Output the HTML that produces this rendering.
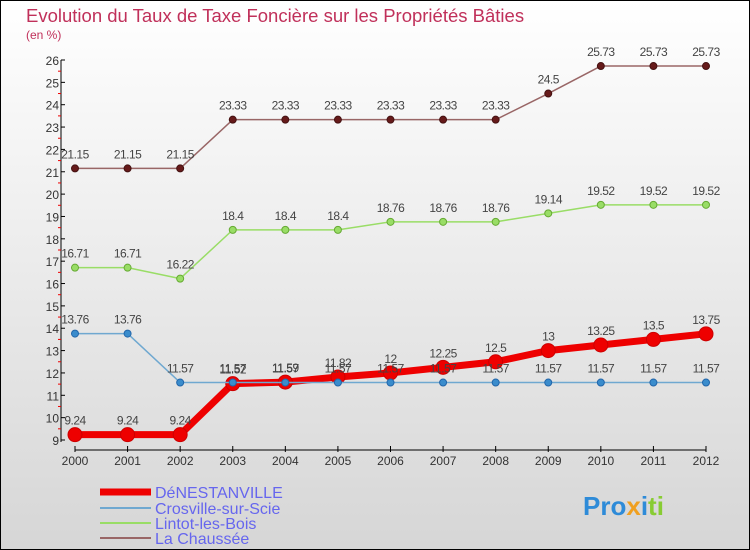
<!DOCTYPE html>
<html><head><meta charset="utf-8"><style>
body{margin:0}
svg{display:block;font-family:"Liberation Sans",sans-serif}
</style></head><body>
<svg width="750" height="550" xmlns="http://www.w3.org/2000/svg">
<defs><linearGradient id="bg" x1="0" y1="0" x2="0" y2="1"><stop offset="0" stop-color="#ffffff"/><stop offset="1" stop-color="#d6d6d6"/></linearGradient></defs>
<rect x="0.5" y="0.5" width="749" height="549" fill="url(#bg)" stroke="#000"/>
<text x="26" y="22" font-size="18.5" fill="#c0305a">Evolution du Taux de Taxe Foncière sur les Propriétés Bâties</text>
<text x="26" y="39" font-size="12" fill="#c0305a">(en %)</text>
<g id="axes"></g>
<g id="series"></g>
<g>
<line x1="100" y1="492" x2="151" y2="492" stroke="#ee0000" stroke-width="7"/>
<text x="155" y="498" font-size="16" fill="#6666ee">DéNESTANVILLE</text>
<line x1="100" y1="508" x2="151" y2="508" stroke="#6fa8d0" stroke-width="2"/>
<text x="155" y="514" font-size="16" fill="#6666ee">Crosville-sur-Scie</text>
<line x1="100" y1="523" x2="151" y2="523" stroke="#99dd66" stroke-width="2"/>
<text x="155" y="529" font-size="16" fill="#6666ee">Lintot-les-Bois</text>
<line x1="100" y1="538" x2="151" y2="538" stroke="#996666" stroke-width="2"/>
<text x="155" y="544" font-size="16" fill="#6666ee">La Chaussée</text>
</g>
<text x="583" y="515" font-size="26" font-weight="bold"><tspan fill="#2e8bd8">Pro</tspan><tspan fill="#f0a020">x</tspan><tspan fill="#2e8bd8">i</tspan><tspan fill="#88cc33">ti</tspan></text>
</svg>
<script>
const years=[2000,2001,2002,2003,2004,2005,2006,2007,2008,2009,2010,2011,2012];
const yTicks=[9,10,11,12,13,14,15,16,17,18,19,20,21,22,23,24,25,26];
const denestanville=[9.24,9.24,9.24,11.52,11.59,11.82,12,12.25,12.5,13,13.25,13.5,13.75];
const crosville=[13.76,13.76,11.57,11.57,11.57,11.57,11.57,11.57,11.57,11.57,11.57,11.57,11.57];
const lintot=[16.71,16.71,16.22,18.4,18.4,18.4,18.76,18.76,18.76,19.14,19.52,19.52,19.52];
const chaussee=[21.15,21.15,21.15,23.33,23.33,23.33,23.33,23.33,23.33,24.5,25.73,25.73,25.73];
const NS="http://www.w3.org/2000/svg";
const X=i=>75+i*(631/12);
const Y=v=>440-(v-9)*(380/17);
function mk(t,a,p){const e=document.createElementNS(NS,t);for(const k in a)e.setAttribute(k,a[k]);p.appendChild(e);return e;}
const ax=document.getElementById('axes');
const yl=mk('line',{x1:61,y1:Y(26),x2:61,y2:Y(9)+2,stroke:'#000'},ax);


yTicks.forEach(v=>{
  mk('line',{x1:61,y1:Y(v),x2:65,y2:Y(v),stroke:'#000'},ax);
  if(v<26){mk('line',{x1:58,y1:Y(v+0.5),x2:61,y2:Y(v+0.5),stroke:'#e00'},ax);}
  const t=mk('text',{x:59,y:Y(v)+5,'font-size':12,fill:'#333','text-anchor':'end'},ax);
  
  
  t.textContent=v;
});
const xl=mk('line',{x1:X(0),y1:450,x2:X(12),y2:450,stroke:'#000'},ax);


years.forEach((y,i)=>{
  mk('line',{x1:X(i),y1:446,x2:X(i),y2:452,stroke:'#000'},ax);
  const t=mk('text',{x:X(i),y:465,'font-size':12,fill:'#333','text-anchor':'middle'},ax);
  
  
  t.textContent=y;
});
const sg=document.getElementById('series');
function draw(vals,name,color,w,r,dot,dotStroke){
  const g=mk('g',{},sg);
  
  
  const pl=mk('polyline',{points:vals.map((v,i)=>X(i)+','+Y(v)).join(' '),fill:'none',stroke:color,'stroke-width':w,'stroke-linejoin':'round'},g);
  
  
  vals.forEach((v,i)=>{
    const c=mk('circle',{cx:X(i),cy:Y(v),r:r,fill:dot,stroke:dotStroke,'stroke-width':1},g);
    
    
    const t=mk('text',{x:X(i),y:Y(v)-10,'font-size':12,fill:'#444','text-anchor':'middle','letter-spacing':'-0.5'},g);
    
    
    t.textContent=v;
  });
}
draw(denestanville,'denestanville','#ee0000',7,7,'#ee0000','#cc0000');
draw(lintot,'lintot','#99dd66',1.5,3.5,'#99dd66','#66aa33');
draw(chaussee,'la-chaussee','#996666',1.5,3.5,'#661a1a','#441111');
draw(crosville,'crosville','#6fa8d0',1.5,3.5,'#3a8ccc','#2266aa');
</script>
</body></html>
